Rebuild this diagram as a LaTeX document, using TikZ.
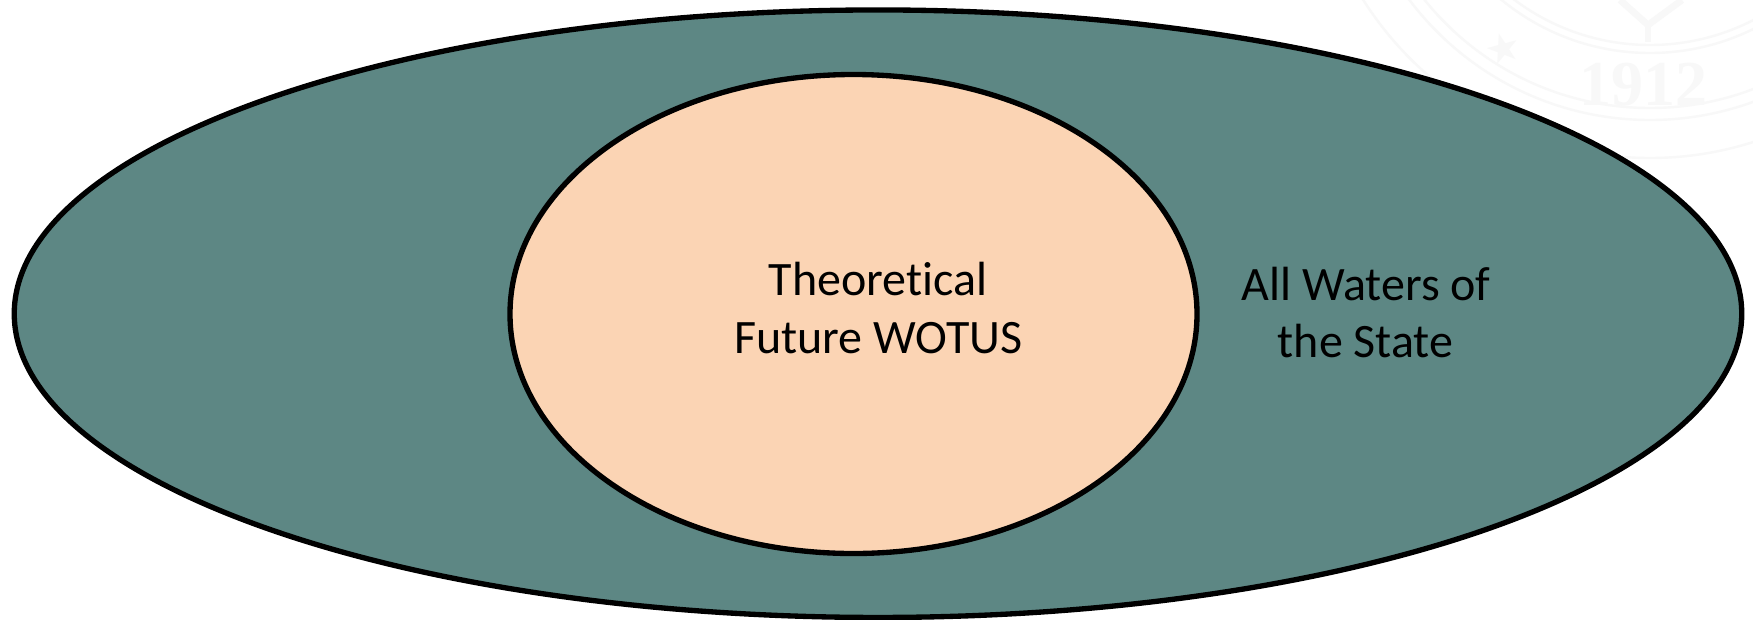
\documentclass[tikz,border=0pt]{standalone}
\usepackage{fontspec}
\setmainfont[Ligatures=NoCommon]{Carlito}
\newfontfamily\sealserif{Liberation Serif}
\newfontfamily\sealsym{DejaVu Sans}
\usetikzlibrary{shapes.geometric}
\definecolor{outerfill}{HTML}{5D8784}
\definecolor{innerfill}{HTML}{FBD4B4}
\definecolor{sealgrey}{HTML}{F8F8F8}
\tikzset{
  region/.style={draw=black,line width=4pt,ellipse,inner sep=0pt,outer sep=0pt},
  label/.style={font=\fontsize{36pt}{43pt}\selectfont,text=black,align=center,inner sep=0pt,anchor=base},
  sealring/.style={draw=sealgrey,line width=1.8pt},
}
\begin{document}
\begin{tikzpicture}[x=0.75pt,y=-0.75pt]
\useasboundingbox (0,0) rectangle (1753,619);
\fill[white] (0,0) rectangle (1753,619);
% faint seal
\begin{scope}
\clip (1340,0) rectangle (1753,200);
\coordinate (sealc) at (1650,-181);
\foreach \r in {226,234,289,301,339}{
  \draw[sealring] (sealc) circle ({\r*0.75pt});
}
\coordinate (forkl) at (1620,0);
\coordinate (forkr) at (1682,0);
\coordinate (forkm) at (1648,25);
\coordinate (forkb) at (1648,42);
\draw[sealring,line width=5pt] (forkl) -- (forkm) -- (forkr);
\draw[sealring,line width=5pt] (forkm) -- (forkb);
\node[text=sealgrey,font=\sealserif\bfseries\fontsize{48pt}{48pt}\selectfont,inner sep=0pt] (year) at (1643,85) {1912};
\node[text=sealgrey,font=\sealsym\fontsize{30pt}{30pt}\selectfont,inner sep=0pt,rotate=15] (star) at (1503,48) {★};
\end{scope}
\node[region,fill=outerfill,minimum width={1727.5*0.75pt},minimum height={607.5*0.75pt}] (outer) at (878,313.7) {};
\node[region,fill=innerfill,minimum width={687*0.75pt},minimum height={479*0.75pt}] (inner) at (853.5,314) {};
\node[label] (t1) at (878,295.5) {Theoretical};
\node[label] (t2) at (878.5,353.5) {Future WOTUS};
\node[label] (t3) at (1366,300.5) {All Waters of};
\node[label] (t4) at (1365.5,357.5) {the State};
\end{tikzpicture}
\end{document}
